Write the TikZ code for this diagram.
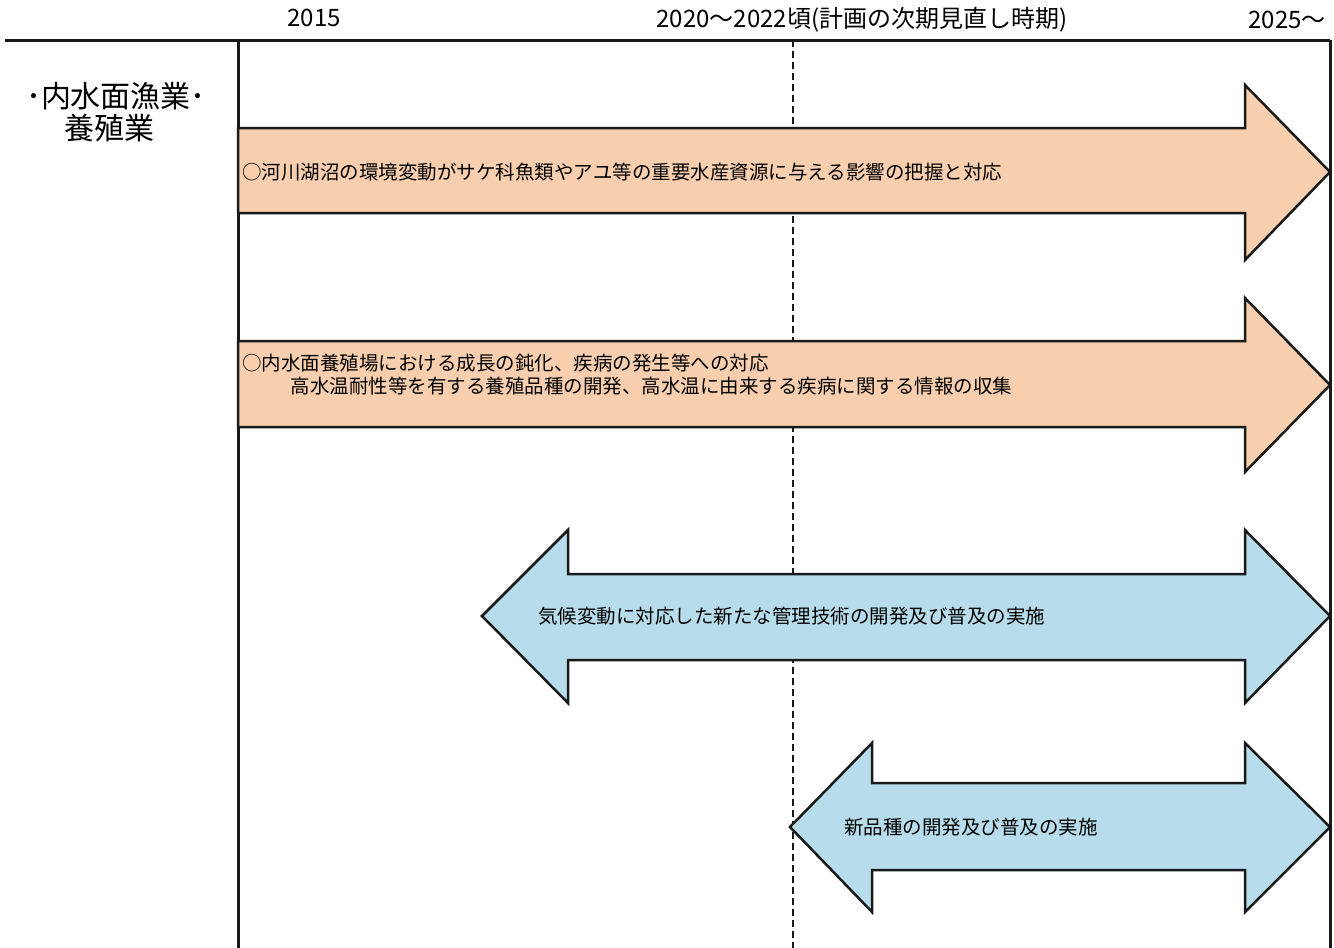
\documentclass[tikz,border=0pt]{standalone}
\usepackage{fontspec}
\setmainfont{Noto Sans CJK JP}
\definecolor{arrorange}{RGB}{248,207,174}
\definecolor{arrblue}{RGB}{183,221,236}
\definecolor{lineblack}{RGB}{25,25,25}
\begin{document}
\begin{tikzpicture}[x=1pt,y=-1pt,
  frameline/.style={draw=lineblack,line width=3pt},
  midline/.style={draw=lineblack,line width=2.5pt,dash pattern=on 7pt off 4pt},
  orangearrow/.style={fill=arrorange,draw=lineblack,line width=2.5pt,line join=miter},
  bluearrow/.style={fill=arrblue,draw=lineblack,line width=2.5pt,line join=miter},
  headtext/.style={font=\fontsize{24}{26}\selectfont,inner sep=0pt},
  labeltext/.style={font=\fontsize{30}{33}\selectfont,inner sep=0pt},
  arrtext/.style={font=\fontsize{19.5}{23}\selectfont,inner sep=0pt,anchor=west,align=left}]
\useasboundingbox (0,0) rectangle (1334,948);
\fill[white] (0,0) rectangle (1334,948);
% header
\node[headtext] (y2015) at (314,18) {2015};
\node[headtext] (ymid) at (862,20) {2020～2022頃(計画の次期見直し時期)};
\node[headtext] (y2025) at (1287,20) {2025～};
% left label
\node[labeltext] (lab1) at (116,96) {･内水面漁業･};
\node[labeltext] (lab2) at (109,128) {養殖業};
% frame
\coordinate (tl) at (5,40);
\coordinate (tr) at (1330,40);
\coordinate (c1t) at (238,40);
\coordinate (c1b) at (238,948);
\coordinate (c3b) at (1330,948);
\coordinate (dt) at (793,40);
\coordinate (db) at (793,948);
\draw[midline] (dt) -- (db);
\draw[frameline] (tl) -- (tr);
\draw[frameline] (c1t) -- (c1b);
\draw[frameline] (tr) -- (c3b);
% arrow 1
\draw[orangearrow] (238,128) -- (1245,128) -- (1245,85) -- (1330,172) -- (1245,260) -- (1245,213) -- (238,213) -- cycle;
\node[arrtext] (t1) at (242,172) {○河川湖沼の環境変動がサケ科魚類やアユ等の重要水産資源に与える影響の把握と対応};
% arrow 2
\draw[orangearrow] (238,341) -- (1245,341) -- (1245,298) -- (1330,385) -- (1245,472) -- (1245,427) -- (238,427) -- cycle;
\node[arrtext] (t2) at (242,375) {○内水面養殖場における成長の鈍化、疾病の発生等への対応\\\hspace{2.5em}高水温耐性等を有する養殖品種の開発、高水温に由来する疾病に関する情報の収集};
% arrow 3
\draw[bluearrow] (482,616) -- (568,530) -- (568,574) -- (1245,574) -- (1245,530) -- (1330,616) -- (1245,703) -- (1245,660) -- (568,660) -- (568,703) -- cycle;
\node[arrtext] (t3) at (538,616) {気候変動に対応した新たな管理技術の開発及び普及の実施};
% arrow 4
\draw[bluearrow] (790,827) -- (872,743) -- (872,783) -- (1245,783) -- (1245,743) -- (1330,827) -- (1245,912) -- (1245,870) -- (872,870) -- (872,912) -- cycle;
\node[arrtext] (t4) at (844,827) {新品種の開発及び普及の実施};
\end{tikzpicture}
\end{document}
